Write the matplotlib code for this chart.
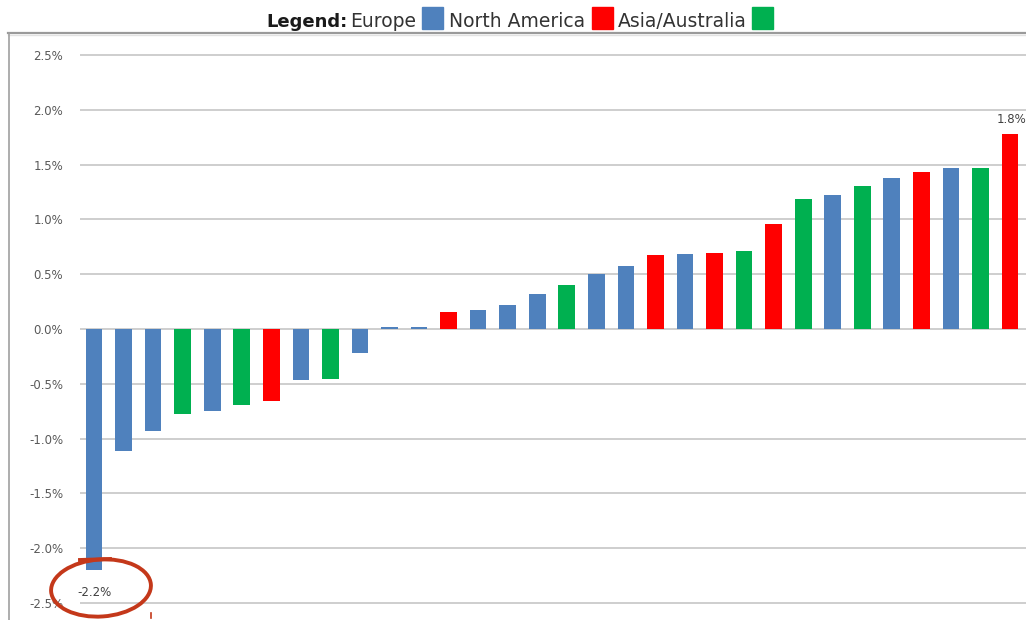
import matplotlib.pyplot as plt
from matplotlib.patches import Ellipse, Rectangle
from matplotlib.lines import Line2D
from matplotlib.ticker import FuncFormatter

# Returns per market, sorted, with region of each market
returns = [-2.20, -1.11, -0.93, -0.775, -0.745, -0.69, -0.66, -0.47, -0.46, -0.215,
           0.015, 0.022, 0.155, 0.17, 0.215, 0.32, 0.40, 0.497, 0.576, 0.676,
           0.688, 0.694, 0.715, 0.955, 1.19, 1.22, 1.30, 1.38, 1.43, 1.47,
           1.47, 1.78]
regions = ['EU', 'EU', 'EU', 'AS', 'EU', 'AS', 'NA', 'EU', 'AS', 'EU',
           'EU', 'EU', 'NA', 'EU', 'EU', 'EU', 'AS', 'EU', 'EU', 'NA',
           'EU', 'NA', 'AS', 'NA', 'AS', 'EU', 'AS', 'EU', 'NA', 'EU',
           'AS', 'NA']
colors = {'EU': '#4F81BD', 'NA': '#FF0000', 'AS': '#00B050'}
yticks = [-2.5, -2.0, -1.5, -1.0, -0.5, 0.0, 0.5, 1.0, 1.5, 2.0, 2.5]

W, H = 1026, 620
fig = plt.figure(figsize=(W / 100, H / 100), dpi=100)

ax = fig.add_axes([80 / W, 0, 1 - 80 / W, (H - 33) / H])
x = list(range(len(returns)))
ax.bar(x, returns, width=0.565, color=[colors[r] for r in regions],
       linewidth=0, zorder=3)
ax.set_xlim(-0.474, 31.54)
ax.set_ylim(-2.655, 2.70)
ax.set_yticks(yticks)
ax.yaxis.set_major_formatter(FuncFormatter(lambda v, p: f'{v:.1f}%'))
ax.tick_params(axis='y', length=0, pad=12, labelsize=8.5, labelcolor='#595959')
ax.set_xticks([])
ax.grid(axis='y', color='#c6c6c6', linewidth=1.2, zorder=0)
for s in ax.spines.values():
    s.set_visible(False)

# value labels on the extremes
ax.annotate(f'{returns[0]:.1f}%', (0, returns[0]), xytext=(0, -16),
            textcoords='offset points', ha='center', va='center',
            fontsize=8.5, color='#404040')
ax.annotate(f'{returns[-1]:.1f}%', (31, returns[-1]), xytext=(1, 10),
            textcoords='offset points', ha='center', va='center',
            fontsize=8.5, color='#404040')

# overlay in pixel coordinates for frame, legend and the hand-drawn circle
ov = fig.add_axes([0, 0, 1, 1], zorder=5)
ov.set_xlim(0, W)
ov.set_ylim(H, 0)
ov.axis('off')
ov.patch.set_alpha(0)

ov.add_line(Line2D([8, W], [33, 33], color='#9a9a9a', linewidth=1.6))
ov.add_line(Line2D([8, W], [35, 35], color='#e2e2e2', linewidth=1.0))
ov.add_line(Line2D([8.5, 8.5], [33, H], color='#a0a0a0', linewidth=1.2))

fs = 13.5
ov.text(266, 27, 'Legend:', fontsize=13, fontweight='bold', color='#1a1a1a', va='baseline')
ov.text(350, 27, 'Europe', fontsize=fs, color='#333333', va='baseline')
ov.add_patch(Rectangle((422, 7), 21, 22, color=colors['EU']))
ov.text(449, 27, 'North America', fontsize=fs, color='#333333', va='baseline')
ov.add_patch(Rectangle((592, 7), 21, 22, color=colors['NA']))
ov.text(618, 27, 'Asia/Australia', fontsize=fs, color='#333333', va='baseline')
ov.add_patch(Rectangle((752, 7), 21, 22, color=colors['AS']))

ov.add_patch(Ellipse((101, 588), 100, 57, angle=-4, fill=False,
                     edgecolor='#c4381a', linewidth=2.8))
ov.add_line(Line2D([80, 110], [560, 559], color='#c4381a', linewidth=2.8))
ov.add_line(Line2D([151, 151], [613, 618], color='#c4381a', linewidth=1.2))

fig.savefig('out.png', dpi=100)
